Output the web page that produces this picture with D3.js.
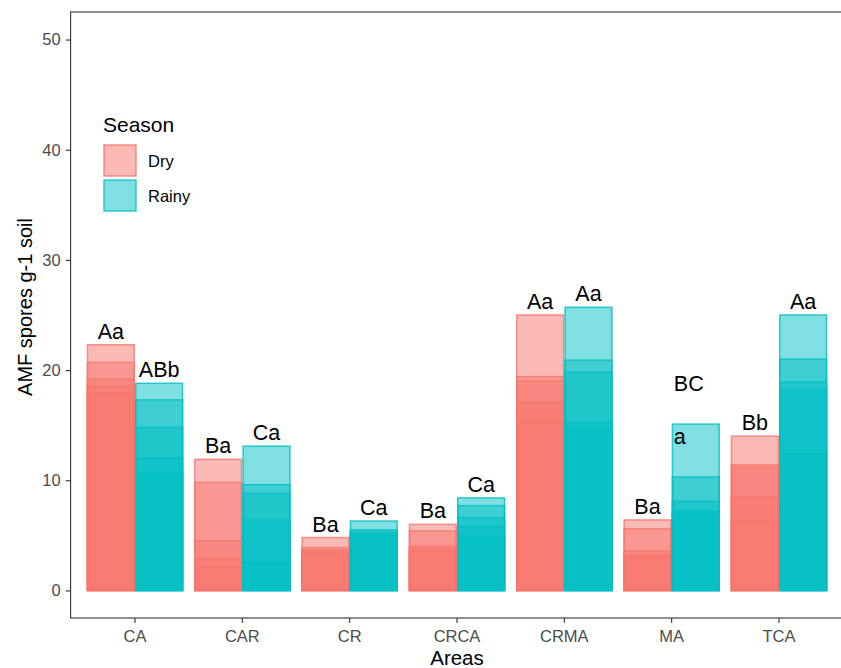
<!DOCTYPE html>
<html lang="en">
<head>
  <meta charset="UTF-8">
  <title>AMF spores by area and season</title>
  <script src="https://d3js.org/d3.v7.min.js"></script>
  <style>
    body { margin: 0; background: #fff; }
    svg { display: block; font-family: "Liberation Sans", Arial, Helvetica, sans-serif; }
  </style>
</head>
<body>
  <div id="chart"></div>
  <script>
    // data (one value per replicate)
    var areas = ["CA", "CAR", "CR", "CRCA", "CRMA", "MA", "TCA"];
    var seasons = ["Dry", "Rainy"];
    var dryValues = [
      [22.3, 20.7, 19.2, 18.5, 17.9],
      [11.9, 9.8, 4.5, 2.9, 2.2],
      [4.8, 3.9, 3.7, 3.5, 3.3],
      [6.0, 5.4, 4.0, 3.8, 3.6],
      [25.0, 19.4, 19.0, 17.1, 15.4],
      [6.4, 5.6, 3.6, 3.2, 3.0],
      [14.0, 11.4, 11.2, 8.5, 6.4]
    ];
    var rainyValues = [
      [18.8, 17.3, 14.8, 12.0, 10.6],
      [13.1, 9.6, 8.8, 6.4, 2.5],
      [6.3, 5.5, 5.3, 5.1, 5.0],
      [8.4, 7.7, 6.6, 5.8, 4.9],
      [25.7, 20.9, 19.8, 15.2, 14.6],
      [15.1, 10.3, 8.1, 7.2, 7.0],
      [25.0, 21.0, 18.9, 18.2, 12.4]
    ];
    var dryLetters = ["Aa", "Ba", "Ba", "Ba", "Aa", "Ba", "Bb"];
    var rainyLetters = ["ABb", "Ca", "Ca", "Ca", "Aa", "BC\na", "Aa"];
    var yTicks = [0, 10, 20, 30, 40, 50];
    var colors = { Dry: "#F8766D", Rainy: "#00BFC4" };

    var width = 841, height = 668;
    var panelLeft = 70.6, panelRight = 843.4, panelTop = 12, panelBottom = 618;

    var svg = d3.select("#chart").append("svg")
      .attr("width", width)
      .attr("height", height);

    var x = d3.scaleBand().domain(areas).range([panelLeft, panelRight])
      .paddingInner(0.1).paddingOuter(0.15);
    var xs = d3.scaleBand().domain(seasons).range([0, x.bandwidth()]);
    var y = d3.scaleLinear().domain([-2.5, 52.5]).range([panelBottom, panelTop]);

    // flatten replicates
    var rows = [];
    areas.forEach(function (a, i) {
      dryValues[i].forEach(function (v) { rows.push({ area: a, season: "Dry", value: v }); });
      rainyValues[i].forEach(function (v) { rows.push({ area: a, season: "Rainy", value: v }); });
    });

    // overlapping semi-transparent bars
    svg.append("g").selectAll("rect")
      .data(rows)
      .enter()
      .append("rect")
      .attr("x", d => x(d.area) + xs(d.season) + 0.75)
      .attr("width", xs.bandwidth() - 1.5)
      .attr("y", d => y(d.value))
      .attr("height", d => y(0) - y(d.value))
      .attr("fill", d => colors[d.season])
      .attr("fill-opacity", 0.5)
      .attr("stroke", d => colors[d.season])
      .attr("stroke-opacity", 0.8)
      .attr("stroke-width", 1.5);

    // letter labels
    var labels = [];
    areas.forEach(function (a, i) {
      labels.push({ area: a, season: "Dry", text: dryLetters[i], top: d3.max(dryValues[i]) });
      labels.push({ area: a, season: "Rainy", text: rainyLetters[i], top: d3.max(rainyValues[i]) });
    });
    var lab = svg.append("g")
      .attr("font-size", 21.5)
      .attr("fill", "#000");
    labels.forEach(function (d) {
      var cx = x(d.area) + xs(d.season) + xs.bandwidth() / 2;
      var parts = d.text.split("\n");
      if (parts.length === 1) {
        lab.append("text")
          .attr("x", cx)
          .attr("y", y(d.top) - 6)
          .attr("text-anchor", "middle")
          .text(d.text);
      } else {
        var x0 = cx - 22;
        lab.append("text").attr("x", x0).attr("y", y(d.top) - 33).text(parts[0]);
        lab.append("text").attr("x", x0).attr("y", y(d.top) + 20).text(parts[1]);
      }
    });

    // axes
    var yAxis = svg.append("g")
      .attr("transform", "translate(" + panelLeft + ",0)")
      .call(d3.axisLeft(y).tickValues(yTicks).tickSize(5).tickPadding(5));
    var xAxis = svg.append("g")
      .attr("transform", "translate(0," + panelBottom + ")")
      .call(d3.axisBottom(x).tickSize(5).tickPadding(7));
    [xAxis, yAxis].forEach(function (g) {
      g.select(".domain").remove();
      g.selectAll(".tick line").attr("stroke", "#333").attr("stroke-width", 1.1);
      g.selectAll(".tick text").attr("fill", "#4d4d4d").attr("font-size", 16.5)
        .attr("font-family", "Liberation Sans, Arial, sans-serif");
    });

    // panel border
    svg.append("rect")
      .attr("x", panelLeft).attr("y", panelTop)
      .attr("width", panelRight - panelLeft).attr("height", panelBottom - panelTop)
      .attr("fill", "none")
      .attr("stroke", "#333")
      .attr("stroke-width", 1.1);

    // axis titles
    svg.append("text")
      .attr("x", (panelLeft + panelRight) / 2)
      .attr("y", 665)
      .attr("text-anchor", "middle")
      .attr("font-size", 20.5)
      .text("Areas");
    svg.append("text")
      .attr("transform", "translate(32," + ((panelTop + panelBottom) / 2 - 8) + ") rotate(-90)")
      .attr("text-anchor", "middle")
      .attr("font-size", 20)
      .text("AMF spores g-1 soil");

    // legend
    var legend = svg.append("g").attr("transform", "translate(103,0)");
    legend.append("text")
      .attr("x", 0).attr("y", 132)
      .attr("font-size", 21)
      .text("Season");
    seasons.forEach(function (s, i) {
      var ky = 145 + i * 35;
      legend.append("rect")
        .attr("x", 1).attr("y", ky)
        .attr("width", 32).attr("height", 31)
        .attr("fill", colors[s]).attr("fill-opacity", 0.5)
        .attr("stroke", colors[s]).attr("stroke-opacity", 0.8)
        .attr("stroke-width", 1.5);
      legend.append("text")
        .attr("x", 45).attr("y", ky + 16)
        .attr("dy", "0.35em")
        .attr("font-size", 16.5)
        .text(s);
    });
  </script>
</body>
</html>
